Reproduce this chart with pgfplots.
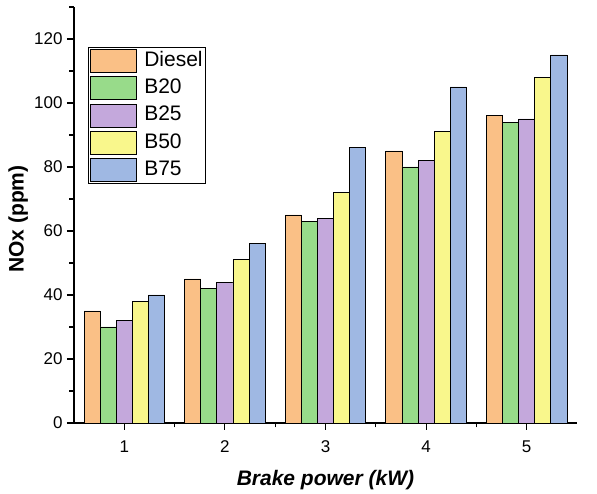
\documentclass[border=0pt]{standalone}
\usepackage{fontspec}
\setmainfont{Liberation Sans}
\usepackage{pgfplots}
\pgfplotsset{compat=1.18}
\definecolor{cDiesel}{HTML}{FAC086}
\definecolor{cB20}{HTML}{98DB8A}
\definecolor{cB25}{HTML}{C4A8DC}
\definecolor{cB50}{HTML}{F9F78C}
\definecolor{cB75}{HTML}{9FB8E3}
\begin{document}
\begin{tikzpicture}
\begin{axis}[
  scale only axis,
  width=503pt, height=416pt,
  at={(0,0)}, anchor=south west,
  ybar=0pt, bar width=0.16,
  xmin=0.5, xmax=5.5, ymin=0, ymax=130,
  xtick={1,2,3,4,5},
  minor xtick={1.5,2.5,3.5,4.5},
  ytick={0,20,...,120},
  minor ytick={10,30,...,130},
  axis x line*=bottom, axis y line*=left,
  axis line style={line width=1.5pt, -},
  tick style={line width=1.2pt, black},
  major tick length=7pt, minor tick length=4.5pt,
  tick align=outside,
  /pgf/number format/assume math mode=true,
  ticklabel style={font=\fontsize{17}{20}\selectfont},
  xticklabel style={yshift=-7pt},
  yticklabel style={xshift=-1pt},
  xlabel={\textbf{\textit{Brake power (kW)}}},
  ylabel={\textbf{NOx (ppm)}},
  label style={font=\fontsize{21}{24}\selectfont},
  xlabel style={at={(axis description cs:0.5,-0.137)}, anchor=center},
  ylabel style={at={(axis description cs:-0.111,0.49)}, anchor=center},
  legend image code/.code={\draw[#1] (0pt,-11.5pt) rectangle (46pt,11.5pt);},
  legend cell align=left,
  legend style={at={(axis description cs:0.028,0.904)}, anchor=north west,
    draw=black, line width=0.8pt, inner sep=2pt, row sep=3.3pt,
    font=\fontsize{21}{24}\selectfont,
    /tikz/every odd column/.append style={column sep=6pt},
    nodes={inner sep=1pt, text height=16pt, text depth=5pt}},
]
\addplot[fill=cDiesel, draw=black, line width=0.8pt] coordinates {(1,35) (2,45) (3,65) (4,85) (5,96)};
\addplot[fill=cB20, draw=black, line width=0.8pt] coordinates {(1,30) (2,42) (3,63) (4,80) (5,94)};
\addplot[fill=cB25, draw=black, line width=0.8pt] coordinates {(1,32) (2,44) (3,64) (4,82) (5,95)};
\addplot[fill=cB50, draw=black, line width=0.8pt] coordinates {(1,38) (2,51) (3,72) (4,91) (5,108)};
\addplot[fill=cB75, draw=black, line width=0.8pt] coordinates {(1,40) (2,56) (3,86) (4,105) (5,115)};
\legend{Diesel,B20,B25,B50,B75}
\end{axis}
\pgfresetboundingbox
\path (-74pt,-71pt) rectangle (523pt,423pt);
\end{tikzpicture}
\end{document}
